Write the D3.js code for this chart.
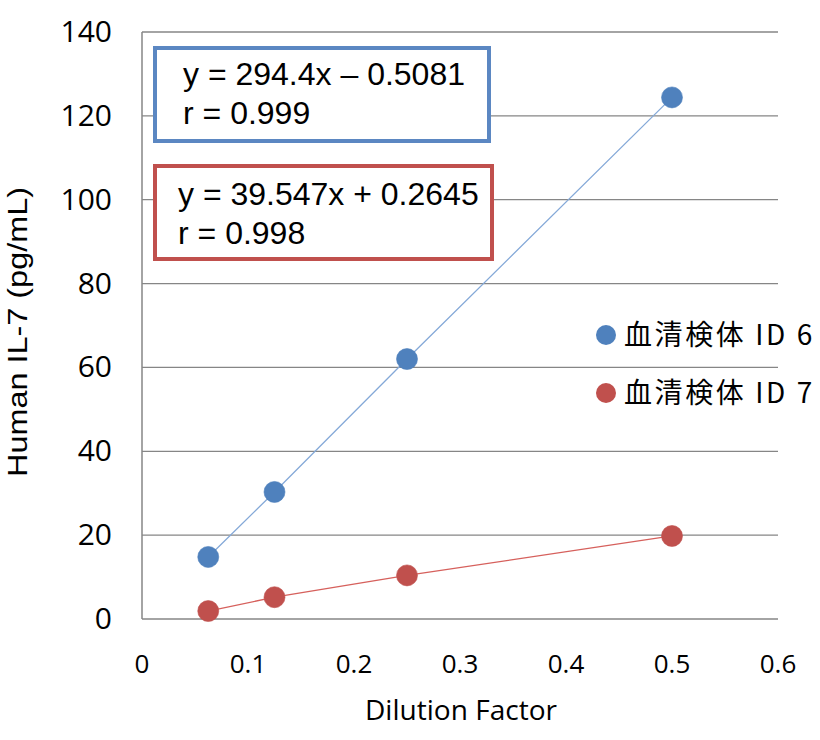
<!DOCTYPE html>
<html lang="ja">
<head>
<meta charset="UTF-8">
<script src="https://d3js.org/d3.v7.min.js"></script>
<style>
    body { margin: 0; background: #fff; }
    .ytick text { font: 30px 'Open Sans', sans-serif; fill: #000; }
    .xtick text { font: 26px 'Open Sans', sans-serif; fill: #000; }
    .grid line { stroke: #868686; stroke-width: 1.3; }
    .eq text { font: 32px 'Liberation Sans', Arial, sans-serif; fill: #000; }
    .legend text { font: 28px 'Noto Sans CJK JP', sans-serif; fill: #000; letter-spacing: 2.6px; }
</style>
</head>
<body>
<script>
// data
var dilution = [0.0625, 0.125, 0.25, 0.5];
var id6 = [14.8, 30.3, 62.0, 124.4];
var id7 = [1.9, 5.2, 10.4, 19.8];
var xTicks = [0, 0.1, 0.2, 0.3, 0.4, 0.5, 0.6];
var yTicks = [0, 20, 40, 60, 80, 100, 120, 140];
var seriesNames = ["血清検体 ID 6", "血清検体 ID 7"];
var eqLines = [["y = 294.4x – 0.5081", "r = 0.999"], ["y = 39.547x + 0.2645", "r = 0.998"]];

var W = 820, H = 740;
var blue = "#4f81bd", red = "#c0504d";

var svg = d3.select("body").append("svg")
    .attr("width", W).attr("height", H);

var x = d3.scaleLinear().domain([0, 0.6]).range([142, 778]);
var y = d3.scaleLinear().domain([0, 140]).range([619, 32]);

// horizontal grid lines
svg.append("g").attr("class", "grid")
    .selectAll("line").data(yTicks).enter().append("line")
    .attr("x1", x(0)).attr("x2", x(0.6))
    .attr("y1", function(d) { return y(d); })
    .attr("y2", function(d) { return y(d); });

// left axis line
svg.append("line")
    .attr("x1", x(0)).attr("x2", x(0))
    .attr("y1", y(0)).attr("y2", y(140))
    .attr("stroke", "#868686").attr("stroke-width", 1.5);

// y tick labels
svg.append("g").attr("class", "ytick")
    .selectAll("text").data(yTicks).enter().append("text")
    .attr("x", 112).attr("y", function(d) { return y(d) + 10; })
    .attr("text-anchor", "end")
    .text(function(d) { return d; });

// x tick labels
svg.append("g").attr("class", "xtick")
    .selectAll("text").data(xTicks).enter().append("text")
    .attr("x", function(d) { return x(d); }).attr("y", 673)
    .attr("text-anchor", "middle")
    .text(function(d) { return d; });

svg.append("text")
    .attr("x", 461).attr("y", 720)
    .attr("text-anchor", "middle")
    .attr("textLength", 192).attr("lengthAdjust", "spacingAndGlyphs")
    .style("font", "28px 'Open Sans', sans-serif")
    .text("Dilution Factor");

svg.append("text")
    .attr("transform", "translate(27,332) rotate(-90)")
    .attr("text-anchor", "middle")
    .attr("textLength", 290).attr("lengthAdjust", "spacingAndGlyphs")
    .style("font", "28px 'Liberation Sans', Arial, sans-serif")
    .text("Human IL-7 (pg/mL)");

var line = d3.line()
    .x(function(d) { return x(d[0]); })
    .y(function(d) { return y(d[1]); });

var series = [
    { vals: id6, color: blue, stroke: "#85a9d8" },
    { vals: id7, color: red, stroke: "#d6605c" }
];

series.forEach(function(s) {
    var pts = dilution.map(function(d, i) { return [d, s.vals[i]]; });
    svg.append("path").datum(pts)
        .attr("d", line)
        .attr("fill", "none")
        .attr("stroke", s.stroke)
        .attr("stroke-width", 1.3);
    svg.append("g").selectAll("circle").data(pts).enter().append("circle")
        .attr("cx", function(d) { return x(d[0]); })
        .attr("cy", function(d) { return y(d[1]); })
        .attr("r", 10.5)
        .attr("fill", s.color)
        .attr("stroke", s.color)
        .attr("stroke-opacity", 0.6)
        .attr("stroke-width", 1);
});

// equation boxes
var boxes = [
    { x: 155, y: 48, w: 334, h: 93, color: "#5b87c2", tx: 183, by: 85 },
    { x: 155, y: 166, w: 337, h: 93, color: "#c0504d", tx: 178, by: 205 }
];
boxes.forEach(function(b, i) {
    var g = svg.append("g").attr("class", "eq");
    g.append("rect")
        .attr("x", b.x).attr("y", b.y)
        .attr("width", b.w).attr("height", b.h)
        .attr("fill", "#fff")
        .attr("stroke", b.color).attr("stroke-width", 4);
    g.selectAll("text").data(eqLines[i]).enter().append("text")
        .attr("x", b.tx)
        .attr("y", function(d, j) { return b.by + j * 38.5; })
        .text(function(d) { return d; });
});

// legend
var lg = svg.append("g").attr("class", "legend");
[blue, red].forEach(function(c, i) {
    var ly = 335 + i * 58;
    lg.append("circle").attr("cx", 606).attr("cy", ly).attr("r", 10).attr("fill", c);
    lg.append("text").attr("x", 624).attr("y", ly + 10).text(seriesNames[i]);
});
</script>
</body>
</html>
